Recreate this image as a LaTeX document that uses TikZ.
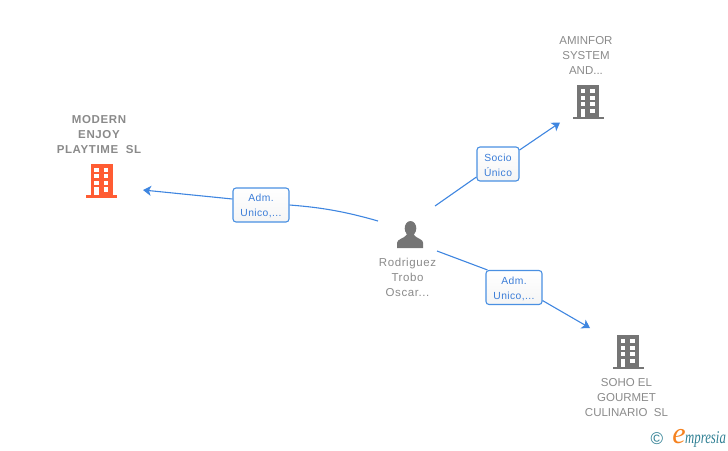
\documentclass[tikz,border=0pt]{standalone}
\usepackage{fontspec}
\setmainfont{Liberation Sans}
\newfontfamily\logofont{Liberation Serif}
\usetikzlibrary{arrows.meta}
\definecolor{linkblue}{HTML}{3F86E0}
\definecolor{boxblue}{HTML}{4A90E2}
\definecolor{labelblue}{HTML}{3B7DD8}
\definecolor{namegray}{HTML}{8A8A8A}
\definecolor{icongray}{HTML}{757575}
\definecolor{iconorange}{HTML}{FF5C33}
\definecolor{logoteal}{HTML}{2F7F93}
\definecolor{logoorange}{HTML}{F58220}
\newcommand{\rolestrut}{\rule{0pt}{9.5pt}}
\tikzset{
  x=1pt,y=-1pt,
  link/.style={draw=linkblue,line width=1.1pt},
  linkarrow/.style={link,-{Stealth[length=8pt,width=10pt,inset=2pt]}},
  rolebox/.style={draw=boxblue,line width=1.1pt,rounded corners=3pt,top color=white,bottom color=white!96!black,
    text=labelblue,font=\fontsize{10.3}{15}\selectfont\addfontfeature{LetterSpace=4},align=center,inner sep=0pt,minimum height=34pt},
  nametext/.style={text=namegray,font=\fontsize{11.5}{15}\selectfont,align=center,inner sep=0pt},
  spacedname/.style={nametext,font=\fontsize{11.5}{15}\selectfont\addfontfeature{LetterSpace=5}},
  boldname/.style={nametext,font=\fontsize{11.5}{15}\selectfont\bfseries\addfontfeature{LetterSpace=5.5}},
  pics/bldg/.style={code={
    \fill[#1] (-11,-16) rectangle (11,16);
    \fill[#1] (-15.5,15.5) rectangle (15.5,18);
    \foreach \r in {-11.8,-5.4,1.2}{
      \fill[white] (-7.3,\r) rectangle (-2.7,\r+4.2);
      \fill[white] (2,\r) rectangle (6.7,\r+4.2);
    }
    \fill[white] (-7.3,7.8) rectangle (-2.7,15.5);
    \fill[white] (2,7.8) rectangle (6.7,12);
  }}
}
\begin{document}
\begin{tikzpicture}
\useasboundingbox (0,0) rectangle (728,450);
% buildings
\pic at (101.5,179.5) {bldg=iconorange};
\pic at (588,101) {bldg=icongray};
\pic at (628,351) {bldg=icongray};
% person
\fill[icongray] (397,248) -- (397,243) .. controls (397,239) and (404,238.5) .. (406.5,235)
  -- (406.5,232) -- (414,232) -- (414,235) .. controls (416.5,238.5) and (423.2,239) .. (423.2,243) -- (423.2,248) -- cycle;
\fill[icongray] (410.5,228.3) ellipse (5.8 and 7.3);
% names
\node[boldname] (modern) at (99,134.5) {MODERN\\ENJOY\\PLAYTIME\ \ SL};
\node[nametext] (aminfor) at (586,55) {AMINFOR\\SYSTEM\\AND...};
\node[nametext] (soho) at (626.5,398) {SOHO EL\\GOURMET\\CULINARIO\ \ SL};
\node[spacedname] (rodriguez) at (407.5,277) {Rodriguez\\Trobo\\Oscar...};
% connector ends
\coordinate (modernin) at (143,190);
\coordinate (aminforin) at (560,122.5);
\coordinate (sohoin) at (590,328);
\coordinate (persona) at (378,221);
\coordinate (personb) at (435,206);
\coordinate (personc) at (437,251);
% role boxes
\node[rolebox,minimum width=56pt] (adm1) at (261,205) {\rolestrut Adm.\\Unico,...};
\node[rolebox,minimum width=42pt] (socio) at (498,164) {\rolestrut Socio\\Único};
\node[rolebox,minimum width=56pt] (adm2) at (514,287.5) {\rolestrut Adm.\\Unico,...};
% connectors
\draw[link] (persona) .. controls (340,210) and (315,207) .. (adm1.east);
\draw[linkarrow] ([yshift=6pt]adm1.west) -- (modernin);
\draw[link] (personb) -- ([yshift=-13pt]socio.west);
\draw[linkarrow] ([yshift=14pt]socio.east) -- (aminforin);
\draw[link] (personc) -- ([xshift=2pt]adm2.north west);
\draw[linkarrow] ([yshift=4.5pt]adm2.south east) -- (sohoin);
% logo
\node[inner sep=0pt,text=logoteal,font=\fontsize{17}{17}\selectfont] (copy) at (657,438.5) {©};
\node[inner sep=0pt,anchor=base west,text=logoteal,font=\logofont\itshape\fontsize{18}{18}\selectfont] (logo) at (685,443.5) {\scalebox{0.71}[1]{mpresia}};
\node[inner sep=0pt,anchor=base east,text=logoorange,font=\logofont\itshape\fontsize{30}{30}\selectfont] (logoe) at ([xshift=1pt]logo.base west) {e};
\end{tikzpicture}
\end{document}
